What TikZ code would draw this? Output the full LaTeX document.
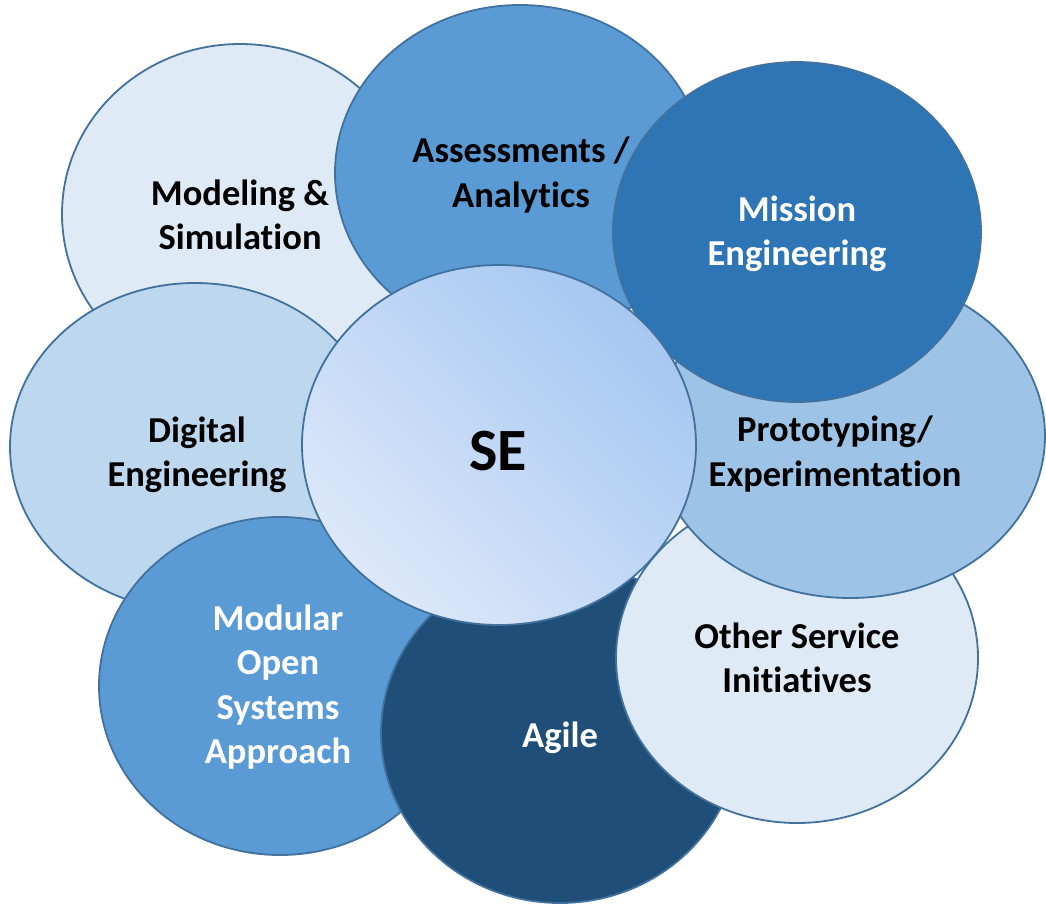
\documentclass[tikz,border=0pt]{standalone}
\usepackage{fontspec}
\setmainfont{Carlito}[Ligatures={NoCommon,NoContextual,NoRare}]
\usetikzlibrary{shapes.geometric}
\definecolor{cLight}{HTML}{DEEAF6}
\definecolor{cPale}{HTML}{BDD7EE}
\definecolor{cSoft}{HTML}{9DC3E6}
\definecolor{cMid}{HTML}{5B9BD5}
\definecolor{cDeep}{HTML}{2E75B6}
\definecolor{cNavy}{HTML}{1F4E79}
\definecolor{cEdge}{HTML}{41719C}
\definecolor{seLight}{HTML}{DCE8F9}
\definecolor{seDark}{HTML}{A6C7F2}
\tikzset{
  blob/.style={ellipse, draw=cEdge, line width=1.8pt, inner sep=0pt},
  lbl/.style={align=center, font=\fontsize{36.5}{44.5}\selectfont\bfseries},
}
\begin{document}
\begin{tikzpicture}[x=1pt,y=-1pt]
\useasboundingbox (0,0) rectangle (1046,907);
% ellipses in stacking order
\node[blob, fill=cLight, minimum width=356pt, minimum height=340pt] (ms) at (240,214) {};
\node[blob, fill=cMid,   minimum width=370pt, minimum height=336pt] (aa) at (520,173) {};
\node[blob, fill=cPale,  minimum width=370pt, minimum height=328pt] (de) at (195,447) {};
\node[blob, fill=cMid,   minimum width=362pt, minimum height=338pt] (mo) at (280,686) {};
\node[blob, fill=cNavy,  minimum width=358pt, minimum height=340pt] (ag) at (560,733) {};
\node[blob, fill=cLight, minimum width=362pt, minimum height=330pt] (os) at (797,658) {};
\node[blob, fill=cSoft,  minimum width=390pt, minimum height=324pt] (pe) at (850,436) {};
\node[blob, fill=cDeep,  minimum width=368pt, minimum height=340pt] (me) at (797,232) {};
\node[blob, left color=seLight, right color=seDark, shading angle=135,
      minimum width=394pt, minimum height=360pt] (se) at (499,445) {};
% labels
\node[lbl] (tms) at (240,215) {Modeling \&\\Simulation};
\node[lbl] (taa) at (521,175) {Assessments /\\Analytics};
\node[lbl, text=white] (tme) at (797,234) {Mission\\Engineering};
\node[lbl] (tpe) at (835,454) {Prototyping/\\Experimentation};
\node[lbl] (tos) at (797,658) {Other Service\\Initiatives};
\node[lbl, text=white] (tag) at (560,738) {Agile};
\node[lbl, text=white] (tmo) at (278,687) {Modular\\Open\\Systems\\Approach};
\node[lbl] (tde) at (197,455) {Digital\\Engineering};
\node[font=\fontsize{60}{70}\selectfont\bfseries] (tse) at (498,451) {SE};
\end{tikzpicture}
\end{document}
